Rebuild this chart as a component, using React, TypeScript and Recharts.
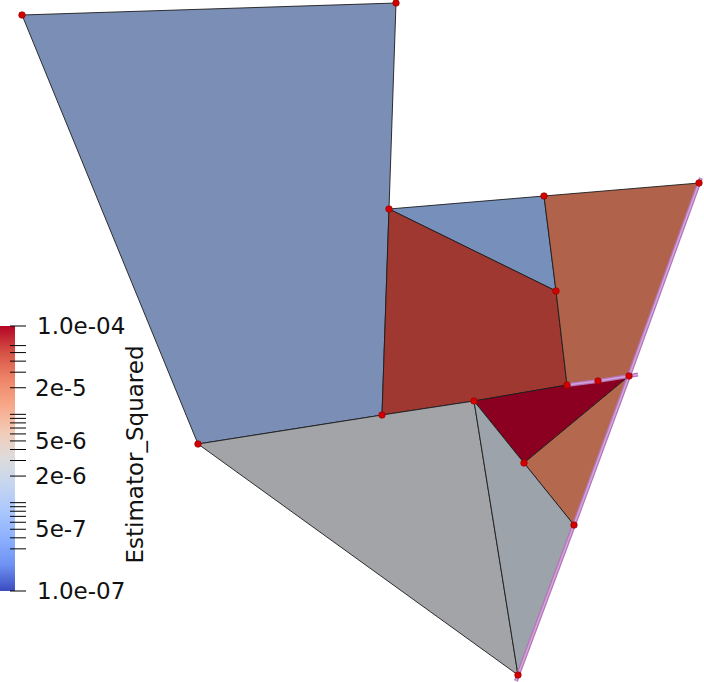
import React from "react";
import {
  ScatterChart,
  Scatter,
  XAxis,
  YAxis,
  ComposedChart,
  ReferenceArea,
  Label,
} from "recharts";

// mesh vertices (screen-like coordinates, y grows downward)
const vertexNames = ["A", "B", "C", "D", "E", "F", "G", "H", "I", "J", "K", "L", "M", "N", "O"];
const vertexX = [22, 396, 389, 382, 198, 544, 699, 556, 567, 598, 629, 474, 524, 574, 518];
const vertexY = [15, 3, 209, 415, 444, 196, 183, 291, 385, 381, 376, 401, 463, 525, 675];

// cells as vertex index lists
const cellNames = ["blueBig", "blueSmall", "redQuad", "orangeTop", "crimson", "orangeLow", "grayBig", "grayBlue"];
const cellVertices = [
  [0, 1, 2, 3, 4],
  [2, 5, 7],
  [2, 7, 8, 11, 3],
  [5, 6, 10, 9, 8, 7],
  [11, 8, 9, 10, 12],
  [12, 10, 13],
  [4, 3, 11, 14],
  [11, 12, 13, 14],
];
const cellColors = ["#7b8fb6", "#7690bb", "#9e3830", "#b0624a", "#8b0020", "#b4694f", "#a2a4a8", "#9ca3aa"];

// boundary edges (highlighted)
const boundaryLongX = [701, 699, 629, 574, 518, 516];
const boundaryLongY = [178, 183, 376, 525, 675, 681];
const boundaryShortX = [567, 598, 629, 638];
const boundaryShortY = [385, 381, 376, 374.6];

// colour bar
const cbMin = 1e-7;
const cbMax = 1e-4;
const cbTicks = [
  1e-4, 6e-5, 5e-5, 4e-5, 3e-5, 2e-5,
  1e-5, 9e-6, 8e-6, 7e-6, 6e-6, 5e-6, 4e-6, 3e-6, 2e-6,
  1e-6, 9e-7, 8e-7, 7e-7, 6e-7, 5e-7, 4e-7, 3e-7,
  1e-7,
];
const cbLabelValues = [1e-4, 2e-5, 5e-6, 2e-6, 5e-7, 1e-7];
const cbLabels = ["1.0e-04", "2e-5", "5e-6", "2e-6", "5e-7", "1.0e-07"];
const cbStops = [0, 0.1, 0.2, 0.3, 0.4, 0.5, 0.6, 0.7, 0.8, 0.9, 1];
const cbColors = ["#b40426", "#d65244", "#ee8468", "#f7a889", "#f2cbb7", "#dddcdc", "#c5d5f0", "#aac7fd", "#8db0fe", "#6f92f3", "#3b4cc0"];

const toPts = (xs: number[], ys: number[]) => xs.map((x, i) => ({ x, y: ys[i] }));

const cellData = cellVertices.map((idx) =>
  [...idx, idx[0]].map((i) => ({ x: vertexX[i], y: vertexY[i] }))
);
const vertexData = vertexNames.map((n, i) => ({ name: n, x: vertexX[i], y: vertexY[i] }));

const Nothing = () => <g />;

const VertexDot = (p: any) => (
  <circle cx={p.cx} cy={p.cy} r={3.3} fill="#d40000" stroke="#8a0000" strokeWidth={0.6} />
);

const ColorBarTick = (p: any) => {
  const v = p.payload.value;
  const li = cbLabelValues.findIndex((x) => Math.abs(x - v) / v < 1e-6);
  const isEnd = li === 0 || li === cbLabels.length - 1;
  return (
    <g>
      <line x1={10} x2={26} y1={p.y} y2={p.y} stroke="#000" strokeWidth={1} />
      {li >= 0 && (
        <text
          x={isEnd ? 37 : 35}
          y={p.y}
          dominantBaseline="central"
          fontSize={23}
          fill="#111"
        >
          {cbLabels[li]}
        </text>
      )}
    </g>
  );
};

function ColorBar() {
  return (
    <ComposedChart
      width={160}
      height={305}
      data={[{ x: 0 }, { x: 1 }]}
      margin={{ top: 26, right: 0, bottom: 14, left: 0 }}
    >
      <defs>
        <linearGradient id="cbGrad" x1="0" y1="0" x2="0" y2="1">
          {cbStops.map((s, i) => (
            <stop key={s} offset={s} stopColor={cbColors[i]} />
          ))}
        </linearGradient>
      </defs>
      <XAxis type="number" dataKey="x" domain={[0, 1]} hide />
      <YAxis
        type="number"
        scale="log"
        domain={[cbMin, cbMax]}
        allowDataOverflow
        orientation="right"
        width={145}
        ticks={cbTicks}
        interval={0}
        axisLine={false}
        tickLine={false}
        tick={<ColorBarTick />}
      >
        <Label
          value="Estimator_Squared"
          angle={-90}
          position="center"
          dx={47}
          dy={-4}
          fontSize={23}
          fill="#111"
        />
      </YAxis>
      <ReferenceArea
        x1={0}
        x2={1}
        y1={cbMin}
        y2={cbMax}
        fill="url(#cbGrad)"
        fillOpacity={1}
        stroke="none"
      />
    </ComposedChart>
  );
}

export default function App() {
  return (
    <div
      style={{
        position: "absolute",
        left: 0,
        top: 0,
        width: 704,
        height: 682,
        background: "#fff",
        fontFamily: "'DejaVu Sans', sans-serif",
      }}
    >
      <ScatterChart width={704} height={682} margin={{ top: 0, right: 0, bottom: 0, left: 0 }}>
        <XAxis type="number" dataKey="x" domain={[0, 704]} hide />
        <YAxis type="number" dataKey="y" domain={[0, 682]} reversed hide />
        {cellData.map((pts, i) => (
          <Scatter
            key={cellNames[i]}
            data={pts}
            shape={<Nothing />}
            line={{ fill: cellColors[i], stroke: "#1c1c1c", strokeWidth: 0.9, strokeLinejoin: "round" }}
            isAnimationActive={false}
          />
        ))}
        <Scatter
          data={toPts(boundaryLongX, boundaryLongY)}
          shape={<Nothing />}
          line={{ fill: "none", stroke: "#b276b8", strokeWidth: 4 }}
          isAnimationActive={false}
        />
        <Scatter
          data={toPts(boundaryLongX, boundaryLongY)}
          shape={<Nothing />}
          line={{ fill: "none", stroke: "#d6a2da", strokeWidth: 1.6 }}
          isAnimationActive={false}
        />
        <Scatter
          data={toPts(boundaryShortX, boundaryShortY)}
          shape={<Nothing />}
          line={{ fill: "none", stroke: "#b276b8", strokeWidth: 4 }}
          isAnimationActive={false}
        />
        <Scatter
          data={toPts(boundaryShortX, boundaryShortY)}
          shape={<Nothing />}
          line={{ fill: "none", stroke: "#d6a2da", strokeWidth: 1.6 }}
          isAnimationActive={false}
        />
        <Scatter data={vertexData} shape={<VertexDot />} isAnimationActive={false} />
      </ScatterChart>
      <div style={{ position: "absolute", left: 0, top: 300 }}>
        <ColorBar />
      </div>
    </div>
  );
}
